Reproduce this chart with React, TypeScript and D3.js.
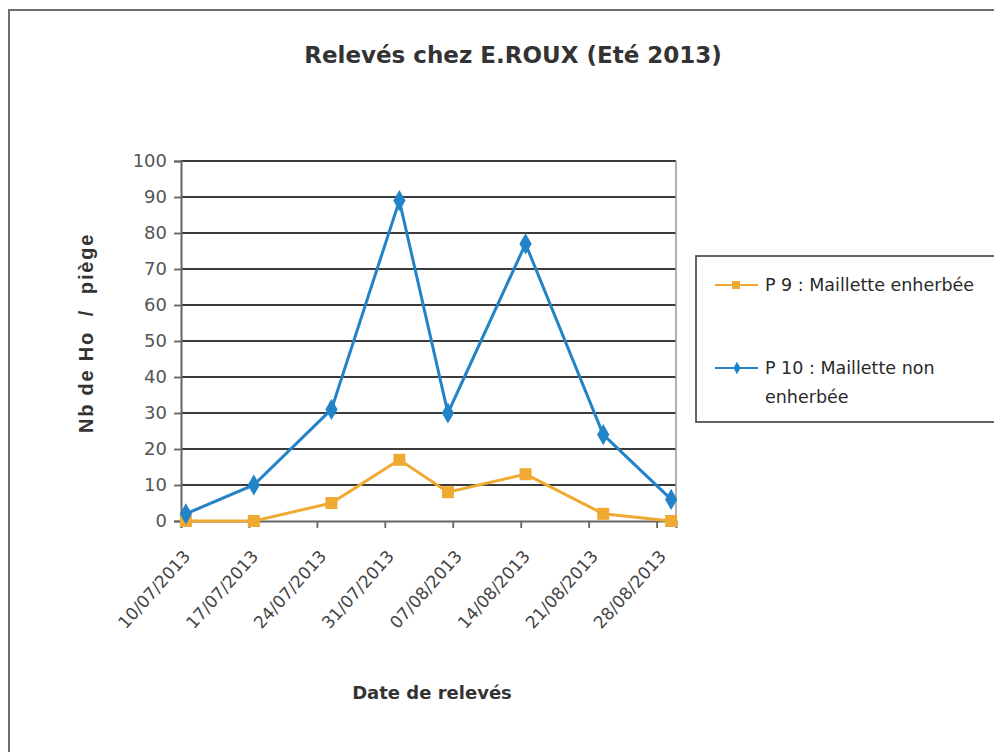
import * as d3 from "d3";
import { useEffect, useRef } from "react";

// dates of the readings (jj/mm/aaaa)
const releveDates = [
  "10/07/2013",
  "17/07/2013",
  "25/07/2013",
  "01/08/2013",
  "06/08/2013",
  "14/08/2013",
  "22/08/2013",
  "29/08/2013",
];
const p9Values = [0, 0, 5, 17, 8, 13, 2, 0];
const p10Values = [2, 10, 31, 89, 30, 77, 24, 6];

const xTickLabels = [
  "10/07/2013",
  "17/07/2013",
  "24/07/2013",
  "31/07/2013",
  "07/08/2013",
  "14/08/2013",
  "21/08/2013",
  "28/08/2013",
];
const yTicks = [0, 10, 20, 30, 40, 50, 60, 70, 80, 90, 100];
const axisStart = "10/07/2013";
const axisEnd = "30/08/2013";

const seriesNames = ["P 9 : Maillette enherbée", "P 10 : Maillette non", "enherbée"];

const BLUE = "#2383c8";
const ORANGE = "#eeaa33";
const FONT = "'Comic Sans MS', 'DejaVu Sans', sans-serif";

const App: React.FC = () => {
  const ref = useRef<SVGSVGElement | null>(null);

  useEffect(() => {
    if (!ref.current) return;
    const svg = d3.select(ref.current);
    svg.selectAll("*").remove();

    const parse = d3.utcParse("%d/%m/%Y");
    const left = 181;
    const right = 676;
    const top = 161;
    const bottom = 521;

    const x = d3
      .scaleUtc()
      .domain([parse(axisStart)!, parse(axisEnd)!])
      .range([left, right]);
    const y = d3.scaleLinear().domain([0, 100]).range([bottom, top]);

    // outer frame
    svg
      .append("rect")
      .attr("x", 9)
      .attr("y", 10)
      .attr("width", 1000)
      .attr("height", 800)
      .attr("fill", "#fff")
      .attr("stroke", "#6e6e6e")
      .attr("stroke-width", 2);

    svg
      .append("text")
      .attr("x", 513)
      .attr("y", 63)
      .attr("text-anchor", "middle")
      .attr("font-family", FONT)
      .attr("font-weight", "bold")
      .attr("font-size", 23)
      .attr("fill", "#333")
      .text("Relevés chez E.ROUX (Eté 2013)");

    // gridlines
    svg
      .append("g")
      .selectAll("line")
      .data(yTicks.slice(1))
      .join("line")
      .attr("x1", left)
      .attr("x2", right)
      .attr("y1", (d) => y(d))
      .attr("y2", (d) => y(d))
      .attr("stroke", "#3c3c3c")
      .attr("stroke-width", 1.8);

    // right border of plot
    svg
      .append("line")
      .attr("x1", right)
      .attr("x2", right)
      .attr("y1", top)
      .attr("y2", bottom)
      .attr("stroke", "#999")
      .attr("stroke-width", 1.5);

    // y axis
    const yAxis = svg
      .append("g")
      .attr("transform", `translate(${left},0)`)
      .call(d3.axisLeft(y).tickValues(yTicks).tickSize(7).tickPadding(7));
    yAxis.select(".domain").attr("stroke", "#666").attr("stroke-width", 2);
    yAxis.selectAll(".tick line").attr("stroke", "#666").attr("stroke-width", 1.8);
    yAxis
      .selectAll(".tick text")
      .attr("font-family", "'DejaVu Sans', sans-serif")
      .attr("font-size", 18)
      .attr("fill", "#555");

    // x axis
    const tickDates = xTickLabels.map((s) => parse(s)!);
    const xAxis = svg
      .append("g")
      .attr("transform", `translate(0,${bottom})`)
      .call(
        d3
          .axisBottom(x)
          .tickValues(tickDates)
          .tickSize(7)
          .tickFormat(() => "")
      );
    xAxis.select(".domain").attr("stroke", "#666").attr("stroke-width", 2);
    xAxis.selectAll(".tick line").attr("stroke", "#666").attr("stroke-width", 1.8);

    svg
      .append("g")
      .selectAll("text")
      .data(xTickLabels)
      .join("text")
      .attr("transform", (d) => {
        const cx = x(d3.utcHour.offset(parse(d)!, 12)) + 1;
        return `translate(${cx},${bottom + 32}) rotate(-48)`;
      })
      .attr("text-anchor", "end")
      .attr("dy", "0.35em")
      .attr("font-family", FONT)
      .attr("font-size", 17)
      .attr("fill", "#444")
      .text((d) => d);

    // axis titles
    svg
      .append("text")
      .attr("x", 432)
      .attr("y", 699)
      .attr("text-anchor", "middle")
      .attr("font-family", FONT)
      .attr("font-weight", "bold")
      .attr("font-size", 18)
      .attr("fill", "#333")
      .text("Date de relevés");

    svg
      .append("text")
      .attr("transform", "translate(93,333) rotate(-90)")
      .attr("text-anchor", "middle")
      .attr("font-family", "'Liberation Sans', Arial, sans-serif")
      .attr("font-weight", "bold")
      .attr("font-size", 20)
      .attr("letter-spacing", 1.8)
      .attr("fill", "#333")
      .style("white-space", "pre")
      .text("Nb de Ho  /  piège");

    const pts = (vals: number[]) =>
      vals.map((v, i) => ({ date: d3.utcHour.offset(parse(releveDates[i])!, 12), v }));

    const line = d3
      .line<{ date: Date; v: number }>()
      .x((d) => x(d.date))
      .y((d) => y(d.v));

    const p9 = pts(p9Values);
    const p10 = pts(p10Values);

    svg
      .append("path")
      .datum(p9)
      .attr("fill", "none")
      .attr("stroke", ORANGE)
      .attr("stroke-width", 3)
      .attr("d", line);
    svg
      .append("g")
      .selectAll("rect")
      .data(p9)
      .join("rect")
      .attr("x", (d) => x(d.date) - 6)
      .attr("y", (d) => y(d.v) - 6)
      .attr("width", 12)
      .attr("height", 12)
      .attr("fill", ORANGE);

    svg
      .append("path")
      .datum(p10)
      .attr("fill", "none")
      .attr("stroke", BLUE)
      .attr("stroke-width", 3)
      .attr("d", line);
    const diamond = d3.symbol().type(d3.symbolDiamond).size(130);
    svg
      .append("g")
      .selectAll("path")
      .data(p10)
      .join("path")
      .attr("transform", (d) => `translate(${x(d.date)},${y(d.v)})`)
      .attr("d", diamond)
      .attr("fill", BLUE);

    // legend
    const lg = svg.append("g");
    lg.append("rect")
      .attr("x", 696)
      .attr("y", 256)
      .attr("width", 320)
      .attr("height", 166)
      .attr("fill", "#fff")
      .attr("stroke", "#555")
      .attr("stroke-width", 1.8);

    lg.append("line")
      .attr("x1", 715)
      .attr("x2", 758)
      .attr("y1", 285)
      .attr("y2", 285)
      .attr("stroke", ORANGE)
      .attr("stroke-width", 2);
    lg.append("rect")
      .attr("x", 732)
      .attr("y", 281)
      .attr("width", 8)
      .attr("height", 8)
      .attr("fill", ORANGE);
    lg.append("line")
      .attr("x1", 715)
      .attr("x2", 758)
      .attr("y1", 368)
      .attr("y2", 368)
      .attr("stroke", BLUE)
      .attr("stroke-width", 2);
    lg.append("path")
      .attr("transform", "translate(737,368)")
      .attr("d", d3.symbol().type(d3.symbolDiamond).size(45)())
      .attr("fill", BLUE);

    const legendY = [285, 368, 397];
    lg.selectAll("text.lab")
      .data(seriesNames)
      .join("text")
      .attr("class", "lab")
      .attr("x", 765)
      .attr("y", (_, i) => legendY[i])
      .attr("dy", "0.35em")
      .attr("font-family", FONT)
      .attr("font-size", 17.5)
      .attr("fill", "#2a2a2a")
      .text((d) => d);
  }, []);

  return (
    <svg
      ref={ref}
      width={994}
      height={752}
      style={{ position: "absolute", left: 0, top: 0, background: "#fff" }}
    />
  );
};

export default App;
